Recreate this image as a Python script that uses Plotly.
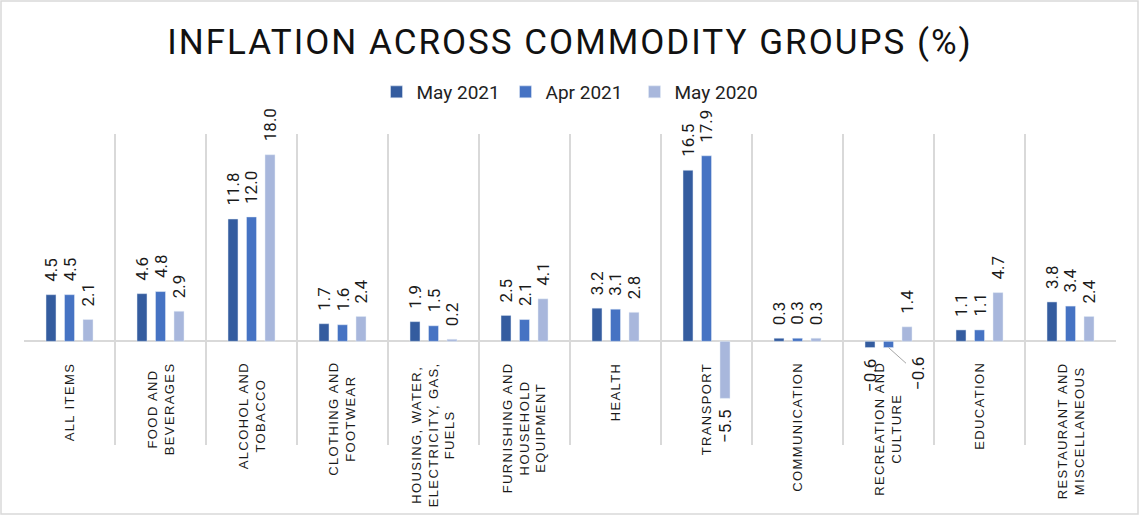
import plotly.graph_objects as go

# categories and values (%)
categories = [
    "ALL ITEMS",
    "FOOD AND<br>BEVERAGES",
    "ALCOHOL AND<br>TOBACCO",
    "CLOTHING AND<br>FOOTWEAR",
    "HOUSING, WATER,<br>ELECTRICITY, GAS,<br>FUELS",
    "FURNISHING AND<br>HOUSEHOLD<br>EQUIPMENT",
    "HEALTH",
    "TRANSPORT",
    "COMMUNICATION",
    "RECREATION AND<br>CULTURE",
    "EDUCATION",
    "RESTAURANT AND<br>MISCELLANEOUS",
]
may_2021 = [4.5, 4.6, 11.8, 1.7, 1.9, 2.5, 3.2, 16.5, 0.3, -0.6, 1.1, 3.8]
apr_2021 = [4.5, 4.8, 12.0, 1.6, 1.5, 2.1, 3.1, 17.9, 0.3, -0.6, 1.1, 3.4]
may_2020 = [2.1, 2.9, 18.0, 2.4, 0.2, 4.1, 2.8, -5.5, 0.3, 1.4, 4.7, 2.4]

series = [
    ("May 2021", may_2021, "#345C9F"),
    ("Apr 2021", apr_2021, "#4673C3"),
    ("May 2020", may_2020, "#A8B7DC"),
]

LABEL_FONT = dict(family="Roboto", size=17, color="#1a1a1a")
BAR_STEP = 18.5  # px between bar centres inside a group


def fmt(v):
    return f"{v:.1f}".replace("-", "\u2212")


fig = go.Figure()
for i, (name, vals, color) in enumerate(series):
    fig.add_trace(go.Bar(x=categories, y=vals, name=name, marker_color=color))
    # value labels, rotated, a little away from the bar end
    for c, v in zip(categories, vals):
        if name == "Apr 2021" and c == categories[9]:
            continue  # moved off with a leader line below
        fig.add_annotation(
            x=c, y=v, xref="x", yref="y", text=fmt(v), textangle=-90,
            showarrow=False, xshift=(i - 1) * BAR_STEP,
            yanchor="bottom" if v >= 0 else "top",
            yshift=11 if v >= 0 else -10,
            font=LABEL_FONT,
        )

# displaced Apr 2021 label for recreation, with leader line
fig.add_annotation(
    x=categories[9], y=apr_2021[9], xref="x", yref="y",
    text=fmt(apr_2021[9]), textangle=-90,
    showarrow=True, arrowhead=0, arrowcolor="#A6A6A6", arrowwidth=1,
    ax=29, ay=26, font=LABEL_FONT,
)

# category labels sit under the zero line, rotated
for c in categories:
    fig.add_annotation(
        x=c, y=0, xref="x", yref="y", yanchor="top", yshift=-19,
        text=f'<span style="letter-spacing:1.4px">{c}</span>',
        textangle=-90, showarrow=False, align="center",
        font=dict(family="Liberation Sans", size=13, color="#1a1a1a"),
    )

# outer frame
fig.add_shape(type="rect", xref="paper", yref="paper",
              x0=-23 / 1092, x1=1114 / 1092, y0=-69 / 311, y1=444 / 311,
              line=dict(color="#D9D9D9", width=1.5))

fig.update_layout(
    width=1140, height=516,
    margin=dict(l=24, r=24, t=134, b=71),
    paper_bgcolor="white", plot_bgcolor="white",
    barmode="group", bargap=0.39, bargroupgap=0.46,
    title=dict(
        text='<span style="letter-spacing:2px">INFLATION ACROSS COMMODITY GROUPS (%)</span>',
        x=0.5, xanchor="center", y=0.919, yanchor="middle",
        font=dict(family="Roboto", size=35, color="#111111"),
    ),
    legend=dict(
        orientation="h", x=0.5, xanchor="center", y=1.135, yanchor="middle",
        font=dict(family="Roboto", size=19, color="#222222"),
        itemwidth=30, entrywidth=84, traceorder="normal",
    ),
    xaxis=dict(
        tickson="boundaries", showgrid=True, gridcolor="#D9D9D9", gridwidth=1.5,
        showticklabels=False, ticks="", showline=False, zeroline=False,
    ),
    yaxis=dict(
        range=[-10, 20], showgrid=False, showticklabels=False,
        zeroline=True, zerolinecolor="#D9D9D9", zerolinewidth=1.5,
    ),
    showlegend=True,
)

fig.write_html("out.html", config={"displayModeBar": False},
               post_script="document.body.style.margin='0';")
